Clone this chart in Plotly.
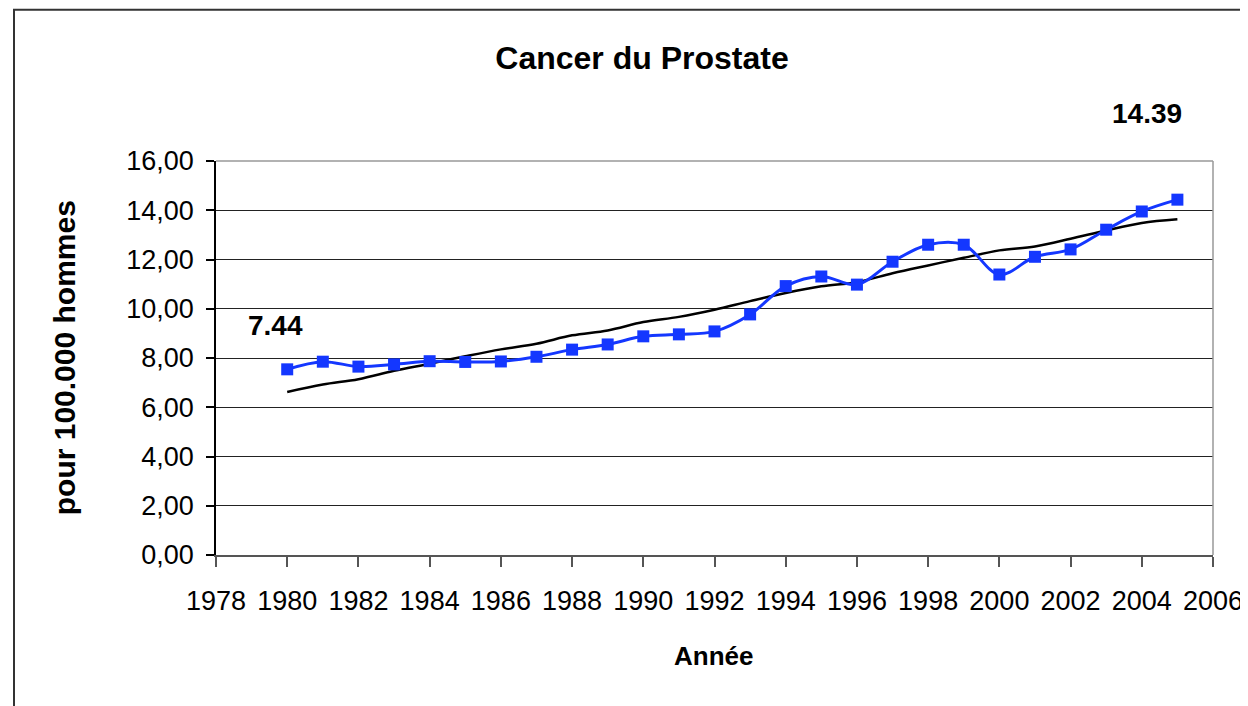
import plotly.graph_objects as go

years = list(range(1980, 2006))
rates = [7.54, 7.85, 7.65, 7.74, 7.87, 7.84, 7.86, 8.05, 8.34, 8.55, 8.88, 8.96, 9.08,
         9.77, 10.92, 11.31, 10.98, 11.91, 12.60, 12.60, 11.39, 12.11, 12.41, 13.21,
         13.95, 14.43]
trend = [6.62, 6.92, 7.14, 7.48, 7.77, 8.07, 8.35, 8.58, 8.92, 9.12, 9.46, 9.67, 9.96,
         10.31, 10.64, 10.91, 11.08, 11.44, 11.76, 12.07, 12.37, 12.53, 12.84, 13.18,
         13.48, 13.63]
title_text = "Cancer du Prostate"
x_title = "Année"
y_title = "pour 100.000 hommes"
first_label = "7.44"
last_label = "14.39"

FONT = "Liberation Sans, Arial, sans-serif"
BLUE = "#1437ff"

# page has an 8px body margin: work in figure coordinates = reference - 8
OFF = 8
FW, FH = 1240, 698
L, R, T, B = 216 - OFF, 1213 - OFF, 160.5 - OFF, 555 - OFF
W, H = R - L, B - T


def px(xr):
    return (xr - OFF - L) / W


def py(yr):
    return (B - (yr - OFF)) / H


fig = go.Figure()
fig.add_trace(go.Scatter(
    x=years, y=trend, mode="lines",
    line=dict(color="black", width=2.5, shape="spline"),
    showlegend=False, hoverinfo="skip"))
fig.add_trace(go.Scatter(
    x=years, y=rates, mode="lines+markers",
    line=dict(color=BLUE, width=3, shape="spline"),
    marker=dict(symbol="square", size=12, color=BLUE),
    showlegend=False))

fig.update_layout(
    width=FW, height=FH,
    margin=dict(l=L, r=FW - R, t=T, b=FH - B, autoexpand=False),
    paper_bgcolor="white", plot_bgcolor="white",
    separators=", ",
    font=dict(family=FONT, color="black"),
    title=dict(text="<b>%s</b>" % title_text, font=dict(size=32, family=FONT, color="black"),
               x=(642 - OFF) / FW, xref="container", xanchor="center",
               y=1 - (58 - OFF) / FH, yref="container", yanchor="middle"),
)
fig.update_xaxes(
    range=[1978, 2006], dtick=2, tick0=1978,
    showgrid=False, zeroline=False,
    showline=True, linecolor="#555555", linewidth=1.5,
    ticks="outside", ticklen=10, tickcolor="#555555", tickwidth=1.5,
    tickfont=dict(size=27, family=FONT, color="black"),
    ticklabelstandoff=11,
)
fig.update_yaxes(
    range=[0, 16], dtick=2, tickformat=".2f",
    showgrid=True, gridcolor="#222222", gridwidth=1.2,
    zeroline=False,
    showline=True, linecolor="black", linewidth=1.5,
    ticks="outside", ticklen=8, tickcolor="black", tickwidth=1.5,
    tickfont=dict(size=27, family=FONT, color="black"),
    ticklabelstandoff=7,
)
# plot area border (top & right, gray)
fig.add_shape(type="line", xref="paper", yref="paper", x0=0, x1=1, y0=1, y1=1,
              line=dict(color="#999999", width=1.5), layer="above")
fig.add_shape(type="line", xref="paper", yref="paper", x0=1, x1=1, y0=0, y1=1,
              line=dict(color="#999999", width=1.5), layer="above")
# outer chart frame
fig.add_shape(type="rect", xref="paper", yref="paper",
              x0=px(14), x1=px(1270), y0=py(730), y1=py(9),
              line=dict(color="#333333", width=2), layer="above")

fig.add_annotation(text="<b>%s</b>" % y_title, textangle=-90, xref="paper", yref="paper",
                   x=px(64), y=py(358), showarrow=False,
                   xanchor="center", yanchor="middle",
                   font=dict(size=30, family=FONT, color="black"))
fig.add_annotation(text="<b>%s</b>" % x_title, xref="paper", yref="paper",
                   x=px(713), y=py(656), showarrow=False,
                   xanchor="center", yanchor="middle",
                   font=dict(size=26, family=FONT, color="black"))
fig.add_annotation(text="<b>%s</b>" % first_label, xref="paper", yref="paper",
                   x=px(275), y=py(325),
                   showarrow=False, xanchor="center", yanchor="middle",
                   font=dict(size=28, family=FONT, color="black"))
fig.add_annotation(text="<b>%s</b>" % last_label, xref="paper", yref="paper",
                   x=px(1147), y=py(113),
                   showarrow=False, xanchor="center", yanchor="middle",
                   font=dict(size=28, family=FONT, color="black"))

fig.write_html("out.html")
